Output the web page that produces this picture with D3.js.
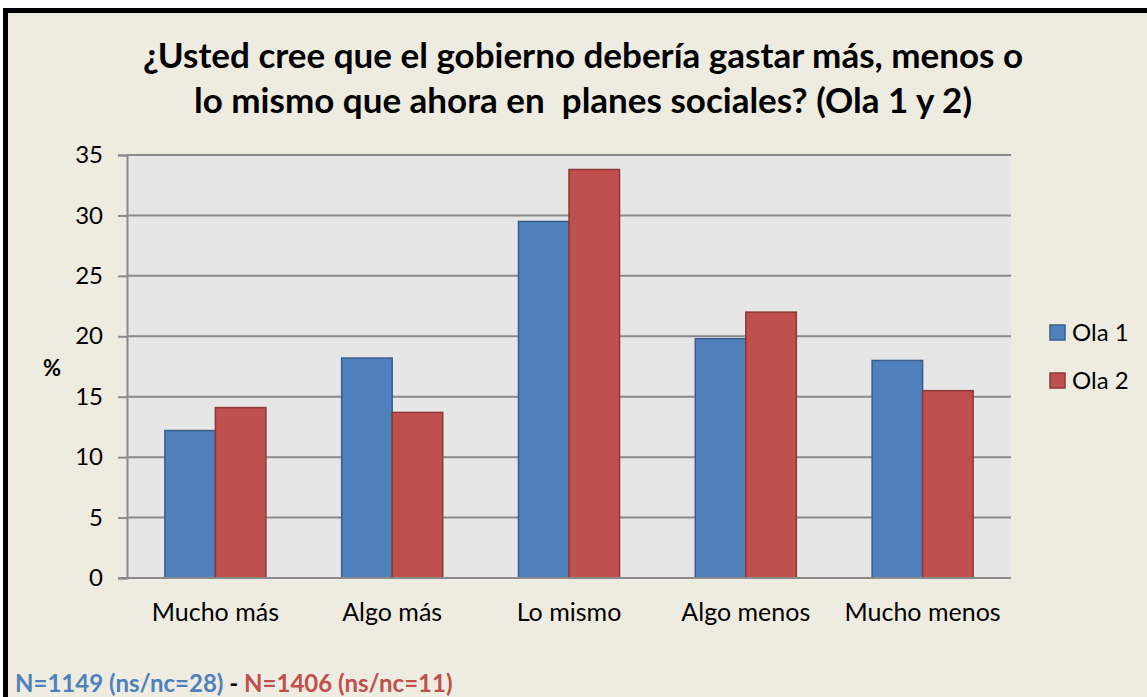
<!DOCTYPE html>
<html>
<head>
  <meta charset="utf-8">
  <title>Gasto en planes sociales - Ola 1 y 2</title>
  <script src="https://d3js.org/d3.v7.min.js"></script>
  <style>
    body { margin: 0; background: #fff; }
    text { font-family: Lato, "Open Sans", sans-serif; fill: #000; }
  </style>
</head>
<body>
  <svg id="chart" width="1147" height="697"></svg>

  <script>
    // data (%)
    const categories = ["Mucho más", "Algo más", "Lo mismo", "Algo menos", "Mucho menos"];
    const seriesNames = ["Ola 1", "Ola 2"];
    const ola1 = [12.2, 18.2, 29.5, 19.8, 18.0];
    const ola2 = [14.1, 13.7, 33.8, 22.0, 15.5];
    const yTicks = [0, 5, 10, 15, 20, 25, 30, 35];

    const colors = { "Ola 1": "#4F81BD", "Ola 2": "#C0504D" };
    const strokes = { "Ola 1": "#385D8A", "Ola 2": "#8C3836" };

    const svg = d3.select("#chart");

    // outer frame
    svg.append("rect")
      .attr("x", 5.5).attr("y", 10.5)
      .attr("width", 1300).attr("height", 900)
      .attr("fill", "#EEECE1")
      .attr("stroke", "#000")
      .attr("stroke-width", 5);

    // title
    const title = svg.append("text")
      .attr("text-anchor", "middle")
      .attr("font-weight", "bold")
      .attr("font-size", 35);
    title.append("tspan").attr("x", 583).attr("y", 68)
      .text("¿Usted cree que el gobierno debería gastar más, menos o");
    title.append("tspan").attr("x", 583).attr("y", 113)
      .text("lo mismo que ahora en  planes sociales? (Ola 1 y 2)")
      .attr("style", "white-space: pre");

    const plot = { left: 127, right: 1011, top: 155, bottom: 578 };

    const x = d3.scaleBand()
      .domain(categories)
      .range([plot.left, plot.right])
      .paddingInner(1.5 / 3.5)
      .paddingOuter(0.75 / 3.5);

    const xSub = d3.scaleBand()
      .domain(seriesNames)
      .range([0, x.bandwidth()]);

    const y = d3.scaleLinear()
      .domain([0, 35])
      .range([plot.bottom, plot.top]);

    // plot background
    svg.append("rect")
      .attr("x", plot.left).attr("y", plot.top)
      .attr("width", plot.right - plot.left)
      .attr("height", plot.bottom - plot.top)
      .attr("fill", "#E6E6E6");

    // gridlines
    svg.append("g")
      .selectAll("line")
      .data(yTicks.filter(d => d > 0))
      .join("line")
      .attr("x1", plot.left).attr("x2", plot.right)
      .attr("y1", d => y(d)).attr("y2", d => y(d))
      .attr("stroke", "#8A8A8A")
      .attr("stroke-width", 2);

    // y axis
    const yAxis = svg.append("g")
      .attr("transform", `translate(${plot.left},0)`)
      .call(d3.axisLeft(y).tickValues(yTicks).tickSize(9).tickPadding(15));
    yAxis.select(".domain").attr("stroke", "#8A8A8A").attr("stroke-width", 2);
    yAxis.selectAll(".tick line").attr("stroke", "#8A8A8A").attr("stroke-width", 2);
    yAxis.selectAll(".tick text")
      .attr("font-size", 24)
      .attr("font-family", "Lato, sans-serif")
      .attr("fill", "#000");

    // bars
    const data = categories.map((c, i) => ({
      cat: c,
      values: [
        { name: "Ola 1", value: ola1[i] },
        { name: "Ola 2", value: ola2[i] }
      ]
    }));

    svg.append("g")
      .selectAll("g")
      .data(data)
      .join("g")
      .attr("transform", d => `translate(${x(d.cat)},0)`)
      .selectAll("rect")
      .data(d => d.values)
      .join("rect")
      .attr("x", d => xSub(d.name))
      .attr("y", d => y(d.value))
      .attr("width", xSub.bandwidth())
      .attr("height", d => y(0) - y(d.value))
      .attr("fill", d => colors[d.name])
      .attr("stroke", d => strokes[d.name])
      .attr("stroke-width", 1.5);

    // x axis
    const xAxis = svg.append("g")
      .attr("transform", `translate(0,${plot.bottom})`)
      .call(d3.axisBottom(x).tickSize(0).tickPadding(25));
    xAxis.select(".domain").remove();
    svg.append("line")
      .attr("x1", plot.left - 9).attr("x2", plot.right)
      .attr("y1", plot.bottom).attr("y2", plot.bottom)
      .attr("stroke", "#8A8A8A").attr("stroke-width", 2);
    xAxis.selectAll(".tick text")
      .attr("font-size", 25)
      .attr("font-family", "Lato, sans-serif")
      .attr("fill", "#000");

    // y axis title
    svg.append("text")
      .attr("x", 52).attr("y", 376)
      .attr("text-anchor", "middle")
      .attr("font-weight", "bold")
      .attr("font-size", 22)
      .text("%");

    // legend
    const legend = svg.append("g")
      .selectAll("g")
      .data(seriesNames)
      .join("g")
      .attr("transform", (d, i) => `translate(1050,${325 + i * 48})`);
    legend.append("rect")
      .attr("width", 15).attr("height", 15)
      .attr("fill", d => colors[d])
      .attr("stroke", d => strokes[d])
      .attr("stroke-width", 1.5);
    legend.append("text")
      .attr("x", 22).attr("y", 8)
      .attr("dy", "0.35em")
      .attr("font-size", 24)
      .text(d => d);

    // sample note
    const note = svg.append("text")
      .attr("x", 15).attr("y", 692)
      .attr("font-weight", "bold")
      .attr("font-size", 24);
    note.append("tspan").attr("fill", "#4F81BD").text("N=1149 (ns/nc=28)");
    note.append("tspan").attr("fill", "#000").text(" - ");
    note.append("tspan").attr("fill", "#C0504D").text("N=1406 (ns/nc=11)");
  </script>
</body>
</html>
